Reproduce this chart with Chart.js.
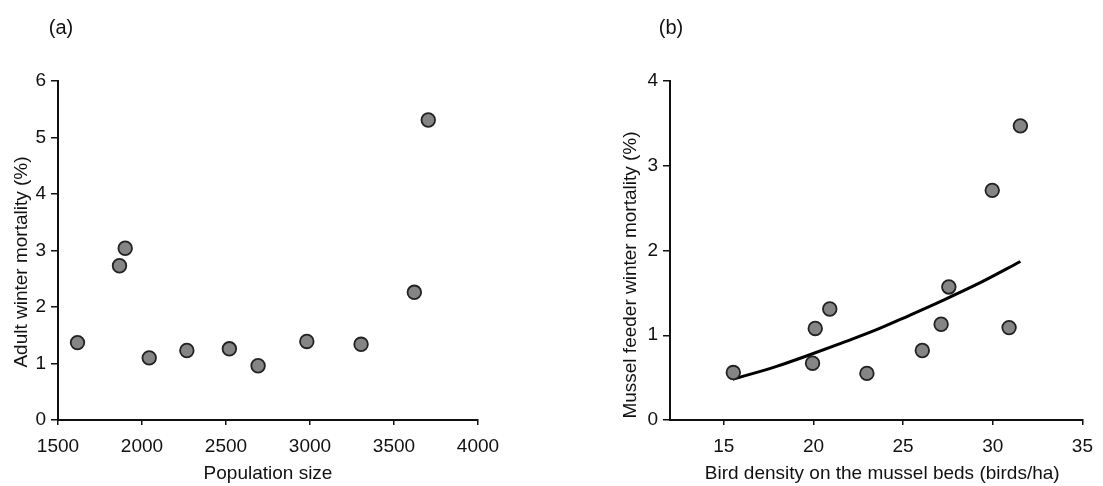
<!DOCTYPE html>
<html>
<head>
<meta charset="utf-8">
<script src="https://cdn.jsdelivr.net/npm/chart.js@4.4.1/dist/chart.umd.min.js"></script>
<style>
  html, body { margin: 0; padding: 0; background: #fff; }
  #wrap { position: relative; width: 1103px; height: 486px; overflow: hidden; }
  .panel { position: absolute; top: 0; height: 486px; }
  #panelA { left: 0; width: 540px; }
  #panelB { left: 560px; width: 543px; }
</style>
</head>
<body>
<div id="wrap">
  <div class="panel" id="panelA"><canvas id="chartA"></canvas></div>
  <div class="panel" id="panelB"><canvas id="chartB"></canvas></div>
</div>
<script>
// (a) adult winter mortality against population size
const populationSize = [1616, 1866, 1900, 2043, 2267, 2520, 2691, 2981, 3304, 3621, 3704];
const adultMortality = [1.37, 2.73, 3.04, 1.10, 1.23, 1.26, 0.96, 1.39, 1.34, 2.26, 5.31];
const popTicks = [1500, 2000, 2500, 3000, 3500, 4000];
const adultTicks = [0, 1, 2, 3, 4, 5, 6];

// (b) mussel feeder winter mortality against bird density, with fitted curve
const birdDensity = [15.53, 19.95, 20.10, 20.91, 22.98, 26.07, 27.12, 27.55, 29.97, 30.91, 31.54];
const musselMortality = [0.56, 0.67, 1.08, 1.31, 0.55, 0.82, 1.13, 1.57, 2.71, 1.09, 3.47];
const fitDensity = [15.5, 17.9, 19.8, 21.6, 23.45, 25.3, 27.1, 29.3, 31.54];
const fitMortality = [0.48, 0.63, 0.77, 0.91, 1.06, 1.23, 1.40, 1.62, 1.87];
const densityTicks = [15, 20, 25, 30, 35];
const musselTicks = [0, 1, 2, 3, 4];

const FONT = '"Liberation Sans", Arial, Helvetica, sans-serif';
const INK = '#111';

const toXY = (xs, ys) => xs.map((x, i) => ({ x, y: ys[i] }));

// Panel letter and axis titles
const panelText = {
  id: 'panelText',
  afterDraw(chart, args, o) {
    const { ctx, chartArea: a } = chart;
    ctx.save();
    ctx.fillStyle = INK;
    ctx.textAlign = 'center';
    ctx.textBaseline = 'middle';
    ctx.font = '20px ' + FONT;
    ctx.fillText(o.tag, o.tagX, o.tagY);
    ctx.font = '19px ' + FONT;
    ctx.fillText(o.xTitle, (a.left + a.right) / 2 + o.xTitleShift, o.xTitleY);
    ctx.translate(o.yTitleX, o.yTitleY);
    ctx.rotate(-Math.PI / 2);
    ctx.fillText(o.yTitle, 0, 0);
    ctx.restore();
  }
};

function axis(min, max, tickValues, tickLength, pad, fixedSize, horizontal) {
  return {
    type: 'linear',
    min, max,
    afterBuildTicks: s => { s.ticks = tickValues.map(v => ({ value: v })); },
    afterFit: s => { if (horizontal) s.height = fixedSize; else s.width = fixedSize; },
    grid: { drawOnChartArea: false, drawTicks: true, tickLength, color: INK, lineWidth: 1.5 },
    border: { display: true, color: INK, width: 2 },
    ticks: {
      color: INK,
      font: { family: FONT, size: 19 },
      padding: pad,
      maxRotation: 0,
      autoSkip: false,
      callback: v => String(v)
    }
  };
}

const pointStyle = {
  pointRadius: 6.8,
  pointBackgroundColor: '#858585',
  pointBorderColor: '#222',
  pointBorderWidth: 1.8,
  showLine: false
};

new Chart(document.getElementById('chartA'), {
  type: 'scatter',
  data: {
    datasets: [
      Object.assign({ data: toXY(populationSize, adultMortality) }, pointStyle)
    ]
  },
  options: {
    responsive: true,
    maintainAspectRatio: false,
    animation: false,
    devicePixelRatio: 1,
    layout: { padding: { left: 0, top: 81, right: 62, bottom: 0 } },
    scales: {
      x: axis(1500, 4000, popTicks, 5, 10, 66, true),
      y: axis(0, 6, adultTicks, 7, 5, 58, false)
    },
    plugins: {
      legend: { display: false },
      tooltip: { enabled: false },
      panelText: {
        tag: '(a)', tagX: 61, tagY: 28,
        xTitle: 'Population size', xTitleShift: 0, xTitleY: 474,
        yTitle: 'Adult winter mortality (%)', yTitleX: 22, yTitleY: 262
      }
    }
  },
  plugins: [panelText]
});

new Chart(document.getElementById('chartB'), {
  type: 'scatter',
  data: {
    datasets: [
      Object.assign({ data: toXY(birdDensity, musselMortality) }, pointStyle),
      {
        data: toXY(fitDensity, fitMortality),
        showLine: true,
        borderColor: '#000',
        borderWidth: 3,
        cubicInterpolationMode: 'monotone',
        pointRadius: 0,
        fill: false
      }
    ]
  },
  options: {
    responsive: true,
    maintainAspectRatio: false,
    animation: false,
    devicePixelRatio: 1,
    layout: { padding: { left: 0, top: 81, right: 17, bottom: 0 } },
    scales: {
      x: axis(12, 35, densityTicks, 5, 10, 66, true),
      y: axis(0, 4, musselTicks, 7, 5, 110, false)
    },
    plugins: {
      legend: { display: false },
      tooltip: { enabled: false },
      panelText: {
        tag: '(b)', tagX: 111, tagY: 28,
        xTitle: 'Bird density on the mussel beds (birds/ha)', xTitleShift: 6, xTitleY: 474,
        yTitle: 'Mussel feeder winter mortality (%)', yTitleX: 71, yTitleY: 275
      }
    }
  },
  plugins: [panelText]
});
</script>
</body>
</html>
